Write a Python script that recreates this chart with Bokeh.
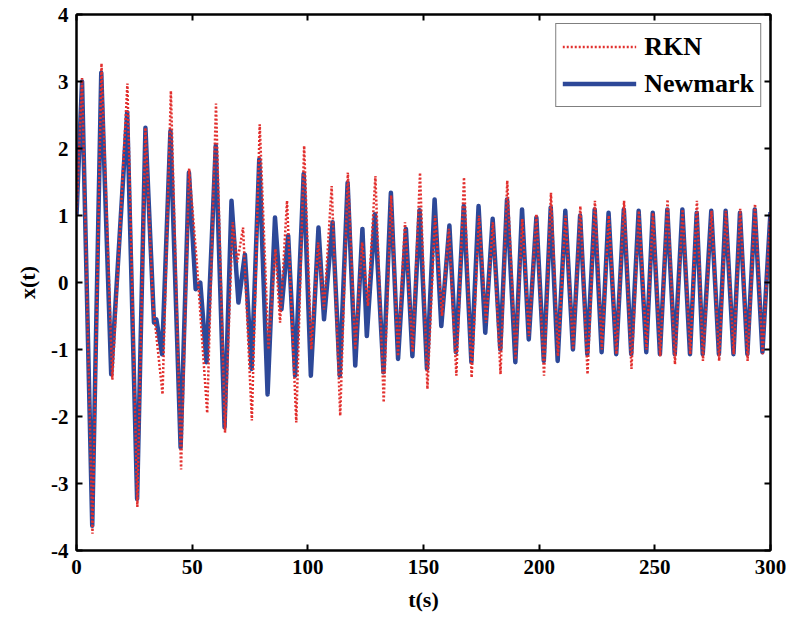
from bokeh.plotting import figure
from bokeh.models import LinearAxis, Range1d, FixedTicker, Legend, LegendItem, PrintfTickFormatter
from bokeh.embed import file_html
from bokeh.resources import INLINE

# Newmark series: extrema (t in s, x(t))
newmark_t = [0, 2.4, 6.8, 10.7, 15.0, 21.9, 26.2, 29.8, 33.5, 34.5, 37.0, 40.6, 45.0, 48.6,
             51.5, 53.5, 56.2, 60.2, 64.0, 67.0, 70.0, 72.8, 75.7, 79.0, 82.6, 85.8, 88.6,
             91.5, 94.5, 98.2, 101.3, 104.6, 107.0, 110.7, 113.8, 117.2, 120.5, 123.6, 125.5,
             129.0, 132.7, 135.9, 139.0, 142.4, 145.2, 148.3, 151.5, 154.8, 157.7, 161.2,
             164.0, 167.4, 170.7, 173.8, 176.7, 179.9, 183.2, 186.1, 189.7, 192.6, 195.5,
             198.8, 202.0, 205.0, 208.0, 211.3, 214.6, 217.7, 220.8, 224.0, 227.0, 230.0,
             233.3, 236.6, 239.8, 243.0, 246.3, 249.1, 252.2, 255.4, 258.6, 261.9, 265.2,
             268.1, 270.7, 274.4, 277.7, 280.6, 284.0, 286.8, 290.0, 293.2, 296.5, 300.0]
newmark_x = [1.0, 3.0, -3.63, 3.13, -1.37, 2.54, -3.23, 2.31, -0.6, -0.55, -1.07, 2.26, -2.46, 1.64,
             -0.1, 0.0, -1.19, 2.04, -2.16, 1.22, -0.3, 0.42, -1.29, 1.84, -1.67, 0.97, -0.4,
             0.70, -1.39, 1.62, -1.39, 0.82, -0.55, 0.9, -1.39, 1.49, -1.24, 0.8, -0.8,
             1.02, -1.34, 1.34, -1.14, 0.8, -1.1, 1.08, -1.29, 1.24, -0.65, 0.85,
             -1.04, 1.14, -1.19, 1.14, -0.75, 0.95, -1.0, 1.24, -1.19, 1.09, -0.85,
             0.97, -1.17, 1.12, -1.17, 1.07, -1.0, 1.0, -1.07, 1.09, -1.04, 1.04,
             -1.07, 1.09, -1.07, 1.07, -1.04, 1.04, -1.07, 1.09, -1.07, 1.09, -1.07,
             1.04, -1.07, 1.07, -1.07, 1.07, -1.07, 1.04, -1.07, 1.09, -1.04, 1.05]

# RKN series: extrema
rkn_t = [0, 2.4, 6.9, 10.8, 15.5, 22.0, 26.3, 29.8, 33.0, 37.2, 40.8, 45.2, 48.7, 52.0, 56.5,
         60.3, 64.2, 67.5, 69.5, 72.0, 75.8, 79.2, 83.0, 86.0, 88.0, 91.0, 95.0, 98.4, 101.5,
         104.5, 107.0, 110.3, 114.0, 117.3, 120.5, 123.5, 126.0, 129.2, 132.8, 136.0, 139.0,
         142.0, 145.3, 148.5, 151.7, 155.0, 158.0, 161.0, 164.2, 167.5, 170.8, 174.0, 177.0,
         180.0, 183.3, 186.2, 189.8, 192.7, 195.6, 198.8, 202.1, 205.1, 208.1, 211.4, 214.7,
         217.8, 220.9, 224.1, 227.1, 230.1, 233.4, 236.7, 239.9, 243.1, 246.4, 249.2, 252.3,
         255.5, 258.7, 262.0, 265.3, 268.2, 270.8, 274.5, 277.8, 280.7, 284.1, 286.9, 290.1,
         293.3, 296.6, 300.0]
rkn_x = [1.0, 3.05, -3.75, 3.27, -1.45, 2.97, -3.35, 2.31, -0.3, -1.67, 2.86, -2.79, 1.70, 0.3, -1.95,
         2.67, -2.24, 0.9, 0.3, 0.82, -2.06, 2.36, -1.0, 0.5, -0.6, 1.22, -2.09, 2.04, -1.0,
         0.6, -0.4, 1.44, -1.99, 1.64, -1.0, 0.6, -0.35, 1.59, -1.79, 1.30, -1.1,
         0.9, -1.04, 1.64, -1.59, 1.0, -0.5, 0.8, -1.39, 1.57, -1.42, 1.0, -0.6,
         0.9, -1.37, 1.52, -1.15, 0.95, -0.8, 1.02, -1.39, 1.34, -1.1, 1.0, -1.0,
         1.14, -1.37, 1.22, -1.0, 1.0, -1.07, 1.22, -1.29, 1.07, -1.0, 1.04, -1.1,
         1.24, -1.22, 1.09, -1.07, 1.22, -1.17, 1.07, -1.17, 1.07, -1.07, 1.1, -1.17,
         1.17, -1.07, 1.05]

x_ticks = [0, 50, 100, 150, 200, 250, 300]
y_ticks = [-4, -3, -2, -1, 0, 1, 2, 3, 4]

FONT = "Liberation Serif"
BLUE = "#2d4898"
RED = "#e2302e"

p = figure(width=786, height=615, output_backend="svg", toolbar_location=None,
           x_range=Range1d(0, 300), y_range=Range1d(-4, 4),
           min_border_left=76, min_border_right=16, min_border_top=14, min_border_bottom=65)
p.background_fill_color = "white"
p.border_fill_color = "white"
p.outline_line_color = "black"
p.outline_line_width = 2
p.xgrid.visible = False
p.ygrid.visible = False

nm = p.line(newmark_t, newmark_x, line_color=BLUE, line_width=4.5, line_join="round")
rk = p.line(rkn_t, rkn_x, line_color=RED, line_width=2.5, line_dash="2 2")


def style_axis(ax, ticks, show_labels=True):
    ax.ticker = FixedTicker(ticks=ticks)
    ax.formatter = PrintfTickFormatter(format="%d")
    ax.axis_line_color = "black"
    ax.axis_line_width = 2
    ax.major_tick_in = 6
    ax.major_tick_out = 0
    ax.major_tick_line_width = 2
    ax.minor_tick_line_color = None
    ax.major_label_text_font = FONT
    ax.major_label_text_font_style = "bold"
    ax.major_label_text_font_size = "21px" if show_labels else "0px"
    ax.major_label_text_color = "black" if show_labels else None
    ax.axis_label_text_font = FONT
    ax.axis_label_text_font_style = "bold"
    ax.axis_label_text_font_size = "22px"
    ax.axis_label_text_color = "black"


xa = p.xaxis[0]
ya = p.yaxis[0]
style_axis(xa, x_ticks)
style_axis(ya, y_ticks)
xa.axis_label = "t(s)"
ya.axis_label = "x(t)"
xa.major_label_standoff = 9
xa.axis_label_standoff = 10
ya.major_label_standoff = 8
ya.axis_label_standoff = 8

top = LinearAxis()
style_axis(top, x_ticks, show_labels=False)
p.add_layout(top, "above")
right = LinearAxis()
style_axis(right, y_ticks, show_labels=False)
p.add_layout(right, "right")

legend = Legend(items=[LegendItem(label="RKN", renderers=[rk]),
                       LegendItem(label="Newmark", renderers=[nm])],
                location="top_right")
legend.label_text_font = FONT
legend.label_text_font_style = "bold"
legend.label_text_font_size = "26px"
legend.label_text_color = "black"
legend.glyph_width = 74
legend.glyph_height = 33
legend.label_height = 33
legend.label_standoff = 8
legend.spacing = 4
legend.padding = 6
legend.margin = 9
legend.border_line_color = "black"
legend.border_line_width = 1.5
legend.background_fill_color = "white"
legend.background_fill_alpha = 1.0
p.add_layout(legend, "center")

open("out.html", "w").write(file_html(p, INLINE))
